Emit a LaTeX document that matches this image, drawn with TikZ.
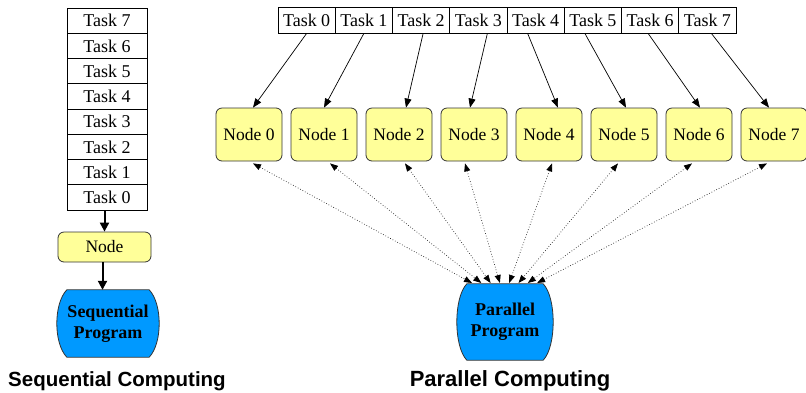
\documentclass[tikz,border=0pt]{standalone}
\usepackage{fontspec}
\setmainfont{Liberation Serif}
\newfontfamily\capfont{Liberation Sans}
\usetikzlibrary{arrows.meta,calc,backgrounds}
\definecolor{nodeyellow}{HTML}{FFFF99}
\definecolor{progblue}{HTML}{0099FF}
\definecolor{edgegray}{HTML}{333333}
\newcommand\drawbarrel[2]{%
  \path[barrelshape] ($(#1.north west)+(#2,0)$) -- ($(#1.north east)+(-#2,0)$)
    .. controls ($(#1.north east)+(#2/3,14)$) and ($(#1.south east)+(#2/3,-14)$) .. ($(#1.south east)+(-#2,0)$)
    -- ($(#1.south west)+(#2,0)$)
    .. controls ($(#1.south west)+(-#2/3,-14)$) and ($(#1.north west)+(-#2/3,14)$) .. cycle;}
\begin{document}
\begin{tikzpicture}[x=1pt,y=-1pt,
  taskbox/.style={draw=black, line width=0.8pt, inner sep=0pt, font=\fontsize{18}{21}\selectfont},
  seqtask/.style={taskbox, minimum width=80pt, minimum height=25.25pt},
  partask/.style={taskbox, minimum width=57.25pt, minimum height=26pt},
  nodebox/.style={draw=edgegray, line width=0.8pt, fill=nodeyellow, rounded corners=6pt, inner sep=0pt, font=\fontsize{17.5}{20}\selectfont},
  prog/.style={draw=none, inner sep=0pt, align=center, font=\fontsize{18}{21}\selectfont\bfseries},
  barrelshape/.style={draw=edgegray, line width=0.8pt, fill=progblue},
  thickarrow/.style={line width=2pt, -{Triangle[length=9pt,width=9pt]}},
  solidarrow/.style={line width=0.7pt, -{Triangle[length=9pt,width=7pt]}},
  dotarrow/.style={line width=0.7pt, dotted, draw=black!85, {Triangle[length=8pt,width=6pt,fill=black,color=black]}-{Triangle[length=8pt,width=6pt,fill=black,color=black]}},
  caption/.style={font=\capfont\fontsize{20.5}{24}\selectfont\bfseries}
]
\useasboundingbox (0,0) rectangle (806,392);
% ---------- sequential ----------
\foreach \k in {0,...,7}
  \node[seqtask] (s\k) at (107, {8+12.625+(7-\k)*25.25}) {Task \k};
\node[nodebox, minimum width=93pt, minimum height=30pt] (sn) at (104.5,247) {Node};
\node[prog, minimum width=102pt, minimum height=67pt] (sp) at (108,323.5) {Sequential\\Program};
\begin{scope}[on background layer]
  \drawbarrel{sp}{10}
\end{scope}
\draw[thickarrow] (s0.south -| sn.north) -- (sn.north);
\draw[thickarrow] ($(sn.south)+(-2,0)$) -- ($(sn.south |- sp.north)+(-2,0)$);
\node[caption] (sc) at (117,381) {Sequential Computing};
% ---------- parallel ----------
\foreach \k in {0,...,7}
  \node[partask] (t\k) at ({278+28.625+57.25*\k}, 20) {Task \k};
\foreach \k in {0,...,7}
  \node[nodebox, minimum width=66pt, minimum height=53pt] (n\k) at ({249+75*\k}, 134.5) {Node \k};
\node[prog, minimum width=96pt, minimum height=76pt] (pp) at (505,322) {Parallel\\Program};
\begin{scope}[on background layer]
  \drawbarrel{pp}{10}
\end{scope}
\foreach \k in {0,...,7}
  \coordinate (q\k) at ({472+9.3*\k}, 283);
\foreach \i/\sx/\ex in {0/0/4, 1/0/0, 2/2/7, 3/9/-4, 4/-8/9, 5/-8/2, 6/-2/1, 7/4/-5}
  \draw[solidarrow] ($(t\i.south)+(\sx,0)$) -- ($(n\i.north)+(\ex,0)$);
\foreach \i/\dx in {0/4, 1/6, 2/6, 3/-9, 4/3, 5/-6, 6/-7, 7/-7}
  \draw[dotarrow] ($(n\i.south)+(\dx,2)$) -- (q\i);
\node[caption, font=\capfont\fontsize{22}{26}\selectfont\bfseries] (pc) at (510,381) {Parallel Computing};
\end{tikzpicture}
\end{document}
